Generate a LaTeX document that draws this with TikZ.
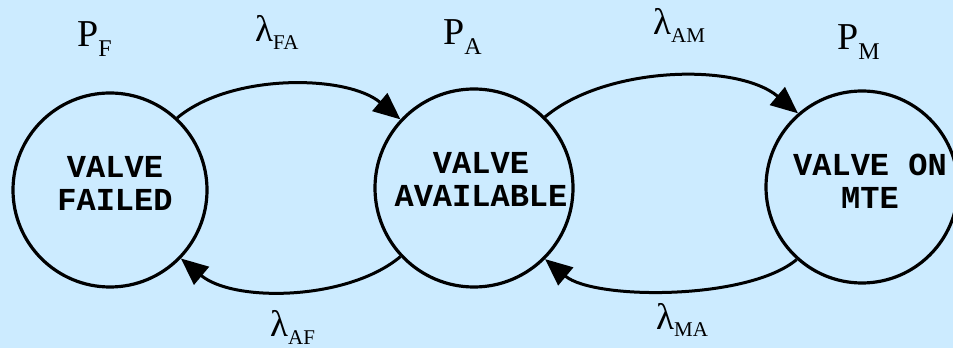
\documentclass[tikz,border=0pt]{standalone}
\usepackage{fontspec}
\setmainfont{Liberation Serif}
\newfontfamily\statefont{Liberation Mono}
\usetikzlibrary{arrows.meta}
\definecolor{bgblue}{RGB}{204,235,255}
\newcommand\lamlab[1]{{\fontsize{37}{37}\selectfont λ}\raisebox{-8pt}{\fontsize{21}{21}\selectfont #1}}
\newcommand\problab[1]{{\fontsize{38}{38}\selectfont P}\raisebox{-10pt}{\fontsize{24}{24}\selectfont #1}}
\begin{document}
\begin{tikzpicture}[x=1pt,y=1pt,
  statecirc/.style={circle,draw=black,line width=3.2pt,inner sep=0pt},
  statetext/.style={font=\statefont\bfseries\fontsize{32}{33}\selectfont,align=center,inner sep=0pt},
  lab/.style={anchor=base west,inner sep=0pt},
  trans/.style={line width=3pt,-{Triangle[length=27pt,width=23pt]}}]
\fill[bgblue] (0,0) rectangle (953,348);
\useasboundingbox (0,0) rectangle (953,348);
\node[statecirc,minimum size=194pt] (F) at (110,158) {};
\node[statecirc,minimum size=198pt] (A) at (474,160) {};
\node[statecirc,minimum size=192pt] (M) at (862,161) {};
\node[statetext] (tF) at (115,165) {VALVE\\FAILED};
\node[statetext] (tA) at (481,169) {VALVE\\AVAILABLE};
\node[statetext] (tM) at (870,167) {VALVE ON\\MTE};
\node[lab] (pF) at (77,301) {\problab{F}};
\node[lab] (pA) at (443,303) {\problab{A}};
\node[lab] (pM) at (837,298) {\problab{M}};
\node[lab] (lFA) at (255,306) {\lamlab{FA}};
\node[lab] (lAM) at (653,313) {\lamlab{AM}};
\node[lab] (lAF) at (270,12) {\lamlab{AF}};
\node[lab] (lMA) at (656,19) {\lamlab{MA}};
\draw[trans] (F.47) to[out=40,in=140,looseness=0.8] (A.137);
\draw[trans] (A.223) to[out=-140,in=-40,looseness=0.8] (F.316);
\draw[trans] (A.45) to[out=40,in=140,looseness=0.8] (M.131);
\draw[trans] (M.228) to[out=-140,in=-40,looseness=0.65] (A.315);
\end{tikzpicture}
\end{document}
